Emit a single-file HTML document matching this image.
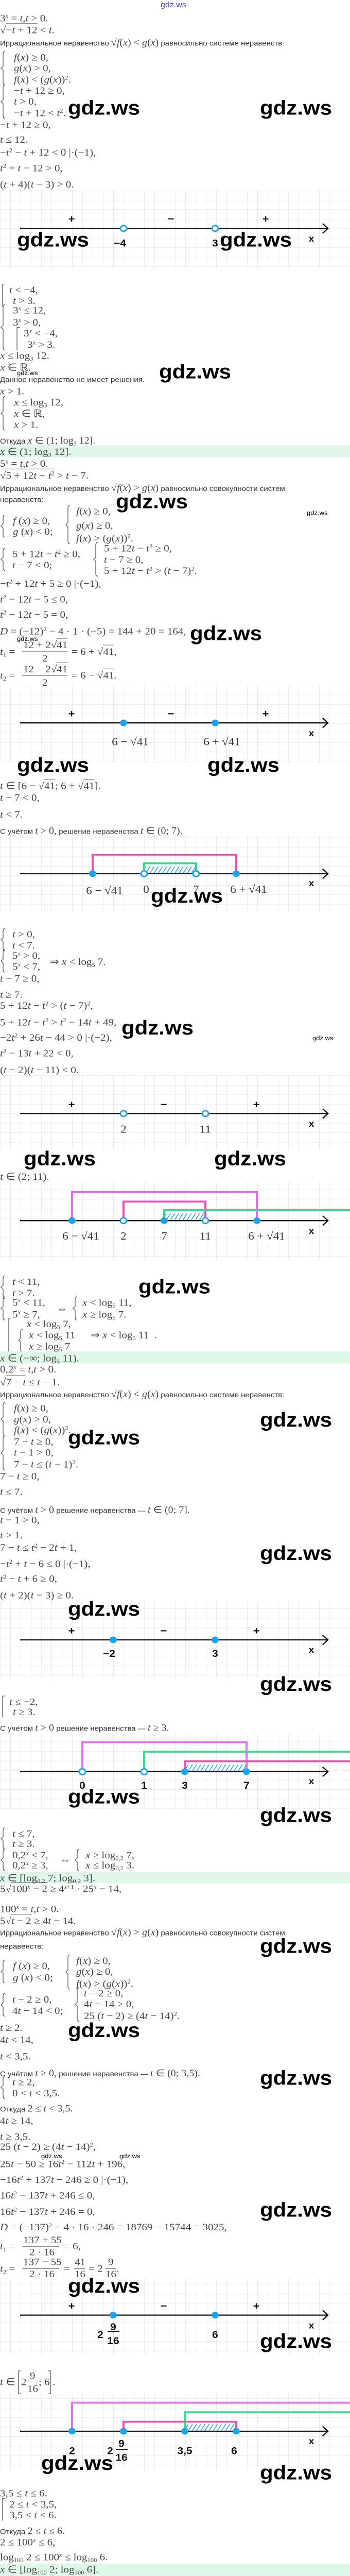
<!DOCTYPE html>
<html style="width:680px;height:5000px;overflow:hidden;margin:0"><head><meta charset="utf-8">
<style>
html,body{margin:0;padding:0}
body{width:680px;height:5000px;position:relative;background:#fff;overflow:hidden}
#c{position:absolute;left:0;top:0;width:680px;height:5413px;transform:scale(1,0.92367);transform-origin:0 0;overflow:hidden}
.m{position:absolute;left:0;font:21px/26px "Liberation Serif",serif;color:#444;white-space:nowrap;z-index:2}
.r{position:absolute;left:0;font:15px/22px "Liberation Sans",sans-serif;color:#333;white-space:nowrap;z-index:2;max-width:670px;overflow:hidden}
.r .q{font:20px "Liberation Serif",serif;color:#444}
sup{font-size:60%;line-height:0;vertical-align:7px}
sub{font-size:60%;line-height:0;vertical-align:-4px}
.o{border-top:1px solid #666;padding-top:1px}
.w{position:absolute;font:bold 42px/42px "Liberation Sans",sans-serif;color:#000;z-index:3;white-space:nowrap}
.ws{position:absolute;font:13px/14px "Liberation Sans",sans-serif;color:#000;z-index:3}
.gb{position:absolute;left:0;width:680px;background:#dff7e8;z-index:1}
.fl{position:absolute;height:1px;background:#555;z-index:2}
svg{position:absolute;left:0;top:0;z-index:0}
</style></head><body><div id="c">
<svg width="680" height="5413" viewBox="0 0 680 5413">
<defs>
<pattern id="g" width="20" height="20" patternUnits="userSpaceOnUse"><path d="M20 0H0V20" fill="none" stroke="#e2e2e2" stroke-width="1.3"/></pattern>
<pattern id="h" width="7" height="7" patternUnits="userSpaceOnUse" patternTransform="rotate(30)"><line x1="0" y1="0" x2="0" y2="7" stroke="#1fa3e8" stroke-width="3"/></pattern>
</defs>
<g fill="url(#g)">
<rect x="0" y="400" width="680" height="162"/>
<rect x="0" y="1441" width="680" height="162"/>
<rect x="0" y="1754" width="680" height="161"/>
<rect x="0" y="2260" width="680" height="157"/>
<rect x="0" y="2483" width="680" height="164"/>
<rect x="0" y="3364" width="680" height="162"/>
<rect x="0" y="3643" width="680" height="160"/>
<rect x="0" y="4787" width="680" height="160"/>
<rect x="0" y="5029" width="680" height="163"/>
</g>
<g fill="none" stroke="#555" stroke-width="1.3">
<path d="M10 108Q6 108 6 114L6 139.5L2 143.5L6 147.5L6 173Q6 179 10 179"/>
<path d="M10 178Q6 178 6 184L6 209.5L2 213.5L6 217.5L6 243Q6 249 10 249"/>
<path d="M10 597L5 597L5 644"/>
<path d="M10 640Q6 640 6 646L6 684L2 688L6 692L6 730Q6 736 10 736"/>
<path d="M38 688L33 688L33 736"/>
<path d="M10 833Q6 833 6 839L6 864.5L2 868.5L6 872.5L6 898Q6 904 10 904"/>
<path d="M10 1082Q6 1082 6 1088L6 1101.5L2 1105.5L6 1109.5L6 1123Q6 1129 10 1129"/>
<path d="M136 1062Q132 1062 132 1068L132 1098.5L128 1102.5L132 1106.5L132 1137Q132 1143 136 1143"/>
<path d="M10 1152Q6 1152 6 1158L6 1171.5L2 1175.5L6 1179.5L6 1193Q6 1199 10 1199"/>
<path d="M190 1140Q186 1140 186 1146L186 1171.5L182 1175.5L186 1179.5L186 1205Q186 1211 190 1211"/>
<path d="M10 1951Q6 1951 6 1957L6 1970.5L2 1974.5L6 1978.5L6 1992Q6 1998 10 1998"/>
<path d="M10 1996Q6 1996 6 2002L6 2015.5L2 2019.5L6 2023.5L6 2037Q6 2043 10 2043"/>
<path d="M10 2681Q6 2681 6 2687L6 2701L2 2705L6 2709L6 2723Q6 2729 10 2729"/>
<path d="M10 2725Q6 2725 6 2731L6 2745.5L2 2749.5L6 2753.5L6 2768Q6 2774 10 2774"/>
<path d="M150 2725Q146 2725 146 2731L146 2745.5L142 2749.5L146 2753.5L146 2768Q146 2774 150 2774"/>
<path d="M22 2770L17 2770L17 2842"/>
<path d="M44 2793Q40 2793 40 2799L40 2813L36 2817L40 2821L40 2835Q40 2841 44 2841"/>
<path d="M10 2947Q6 2947 6 2953L6 2978L2 2982L6 2986L6 3011Q6 3017 10 3017"/>
<path d="M10 3017Q6 3017 6 3023L6 3049L2 3053L6 3057L6 3083Q6 3089 10 3089"/>
<path d="M10 3564L5 3564L5 3609"/>
<path d="M10 3841Q6 3841 6 3847L6 3859.5L2 3863.5L6 3867.5L6 3880Q6 3886 10 3886"/>
<path d="M10 3886Q6 3886 6 3892L6 3904.5L2 3908.5L6 3912.5L6 3925Q6 3931 10 3931"/>
<path d="M154 3886Q150 3886 150 3892L150 3904.5L146 3908.5L150 3912.5L150 3925Q150 3931 154 3931"/>
<path d="M10 4119Q6 4119 6 4125L6 4139L2 4143L6 4147L6 4161Q6 4167 10 4167"/>
<path d="M136 4108Q132 4108 132 4114L132 4140L128 4144L132 4148L132 4174Q132 4180 136 4180"/>
<path d="M10 4189Q6 4189 6 4195L6 4209L2 4213L6 4217L6 4231Q6 4237 10 4237"/>
<path d="M154 4176Q150 4176 150 4182L150 4208L146 4212L150 4216L150 4242Q150 4248 154 4248"/>
<path d="M10 4363Q6 4363 6 4369L6 4382.5L2 4386.5L6 4390.5L6 4404Q6 4410 10 4410"/>
<path d="M10 5250L5 5250L5 5297"/>
<path d="M40 4982L36 4982L36 5030L40 5030M94 4982L98 4982L98 5030L94 5030"/>
</g>
<g stroke="#111" stroke-width="2.5" fill="none">
<line x1="39" y1="480" x2="637" y2="480"/><polyline points="627,470 637,480 627,490"/>
<line x1="39" y1="1519" x2="637" y2="1519"/><polyline points="627,1509 637,1519 627,1529"/>
<line x1="39" y1="1836" x2="637" y2="1836"/><polyline points="627,1826 637,1836 627,1846"/>
<line x1="39" y1="2340" x2="637" y2="2340"/><polyline points="627,2330 637,2340 627,2350"/>
<line x1="39" y1="2565" x2="637" y2="2565"/><polyline points="627,2555 637,2565 627,2575"/>
<line x1="39" y1="3446" x2="637" y2="3446"/><polyline points="627,3436 637,3446 627,3456"/>
<line x1="39" y1="3723" x2="637" y2="3723"/><polyline points="627,3713 637,3723 627,3733"/>
<line x1="39" y1="4865" x2="637" y2="4865"/><polyline points="627,4855 637,4865 627,4875"/>
<line x1="39" y1="5109" x2="637" y2="5109"/><polyline points="627,5099 637,5109 627,5119"/>
</g>
<g fill="none" stroke-width="4">
<polyline stroke="#ee4fb0" points="180,1836 180,1796 459,1796 459,1836"/>
<polyline stroke="#33dd8c" points="280,1836 280,1814 381,1814 381,1836"/>
<polyline stroke="#e070ec" points="140,2565 140,2505 499,2505 499,2565"/>
<polyline stroke="#ee4fb0" points="240,2565 240,2525 399,2525 399,2565"/>
<polyline stroke="#33dd8c" points="319,2565 319,2543 680,2543"/>
<polyline stroke="#e070ec" points="160,3723 160,3661 479,3661 479,3723"/>
<polyline stroke="#33dd8c" points="280,3723 280,3681 680,3681"/>
<polyline stroke="#ee4fb0" points="359,3723 359,3701 680,3701"/>
<polyline stroke="#e070ec" points="140,5109 140,5049 680,5049"/>
<polyline stroke="#33dd8c" points="359,5109 359,5069 680,5069"/>
<polyline stroke="#ee4fb0" points="240,5109 240,5089 459,5089 459,5109"/>
</g>
<g fill="url(#h)">
<rect x="282" y="1821" width="98" height="14"/>
<rect x="321" y="2550" width="77" height="14"/>
<rect x="361" y="3708" width="117" height="14"/>
<rect x="361" y="5094" width="97" height="14"/>
</g>
<g fill="#1fa3e8">
<circle cx="240" cy="1519" r="7"/><circle cx="418" cy="1519" r="7"/>
<circle cx="180" cy="1836" r="7"/><circle cx="459" cy="1836" r="7"/>
<circle cx="140" cy="2565" r="7"/><circle cx="319" cy="2565" r="7"/><circle cx="499" cy="2565" r="7"/>
<circle cx="220" cy="3446" r="7"/><circle cx="418" cy="3446" r="7"/>
<circle cx="359" cy="3723" r="7"/><circle cx="479" cy="3723" r="7"/>
<circle cx="220" cy="4865" r="7"/><circle cx="418" cy="4865" r="7"/>
<circle cx="140" cy="5109" r="7"/><circle cx="240" cy="5109" r="7"/><circle cx="359" cy="5109" r="7"/><circle cx="459" cy="5109" r="7"/>
</g>
<g fill="#fff" stroke="#1fa3e8" stroke-width="3">
<circle cx="240" cy="480" r="6"/><circle cx="418" cy="480" r="6"/>
<circle cx="280" cy="1836" r="6"/><circle cx="381" cy="1836" r="6"/>
<circle cx="240" cy="2340" r="6"/><circle cx="399" cy="2340" r="6"/>
<circle cx="240" cy="2565" r="6"/><circle cx="399" cy="2565" r="6"/>
<circle cx="160" cy="3723" r="6"/><circle cx="280" cy="3723" r="6"/>
</g>
<g font-family="Liberation Sans, sans-serif" font-weight="bold" font-size="22" fill="#111" text-anchor="middle">
<text x="139" y="467">+</text><text x="332" y="467">−</text><text x="516" y="467">+</text>
<text x="139" y="1507">+</text><text x="332" y="1507">−</text><text x="516" y="1507">+</text>
<text x="139" y="2328">+</text><text x="318" y="2328">−</text><text x="498" y="2328">+</text>
<text x="139" y="3434">+</text><text x="318" y="3434">−</text><text x="498" y="3434">+</text>
<text x="139" y="4853">+</text><text x="318" y="4853">−</text><text x="498" y="4853">+</text>
</g>
<g font-family="Liberation Sans, sans-serif" font-weight="bold" font-size="19" fill="#111" text-anchor="middle">
<text x="605" y="508">x</text><text x="605" y="1547">x</text><text x="605" y="1862">x</text><text x="605" y="2368">x</text><text x="605" y="2593">x</text><text x="605" y="3473">x</text><text x="605" y="3749">x</text><text x="605" y="4893">x</text><text x="605" y="5136">x</text>
</g>
<g font-family="Liberation Sans, sans-serif" font-weight="bold" font-size="21" fill="#111" text-anchor="middle">
<text x="233" y="518">−4</text><text x="418" y="518">3</text>
<text x="212" y="3482">−2</text><text x="418" y="3482">3</text>
<text x="160" y="3759">0</text><text x="280" y="3759">1</text><text x="359" y="3759">3</text><text x="479" y="3759">7</text>
<text x="195" y="4913">2</text><text x="220" y="4897">9</text><text x="220" y="4926">16</text>
<text x="418" y="4913">6</text>
<text x="140" y="5157">2</text><text x="214" y="5157">2</text><text x="236" y="5142">9</text><text x="236" y="5171">16</text>
<text x="359" y="5157">3,5</text><text x="455" y="5157">6</text>
</g>
<g stroke="#111" stroke-width="2"><line x1="209" y1="4899" x2="232" y2="4899"/><line x1="225" y1="5147" x2="248" y2="5147"/></g>
<g font-family="Liberation Serif, serif" font-size="23" fill="#333" text-anchor="middle">
<text x="253" y="1566">6 − √41</text><text x="431" y="1566">6 + √41</text>
<text x="203" y="1879">6 − √41</text><text x="284" y="1876">0</text><text x="381" y="1876">7</text><text x="483" y="1876">6 + √41</text>
<text x="240" y="2380">2</text><text x="399" y="2380">11</text>
<text x="157" y="2605">6 − √41</text><text x="240" y="2605">2</text><text x="319" y="2605">7</text><text x="399" y="2605">11</text><text x="518" y="2605">6 + √41</text>
</g>
</svg>

<div class="gb" style="top:936px;height:25px"></div>
<div class="gb" style="top:2840px;height:25px"></div>
<div class="gb" style="top:3933px;height:24px"></div>
<div class="gb" style="top:5387px;height:26px"></div>

<div class="ws" style="left:312px;top:4px;font-size:16px;color:#4b3cd8">gdz.ws</div>

<div class="m" style="top:25px">3<sup><i>x</i></sup> = <i>t</i>,<i>t</i> &gt; 0.</div>
<div class="m" style="top:50px">√<span class="o">−<i>t</i> + 12</span> &lt; <i>t</i>.</div>
<div class="r" style="top:79px">Иррациональное неравенство <span class="q">√<span class="o"><i>f</i>(<i>x</i>)</span> &lt; <i>g</i>(<i>x</i>)</span> равносильно системе неравенств:</div>
<div class="m" style="top:107px;left:27px"><i>f</i>(<i>x</i>) ≥ 0,</div>
<div class="m" style="top:130px;left:27px"><i>g</i>(<i>x</i>) &gt; 0,</div>
<div class="m" style="top:154px;left:27px"><i>f</i>(<i>x</i>) &lt; (<i>g</i>(<i>x</i>))<sup>2</sup>.</div>
<div class="m" style="top:177px;left:27px">−<i>t</i> + 12 ≥ 0,</div>
<div class="m" style="top:200px;left:27px"><i>t</i> &gt; 0,</div>
<div class="m" style="top:224px;left:27px">−<i>t</i> + 12 &lt; <i>t</i><sup>2</sup>.</div>
<div class="w" style="left:132px;top:206px">gdz.ws</div>
<div class="w" style="left:505px;top:206px">gdz.ws</div>
<div class="m" style="top:249px">−<i>t</i> + 12 ≥ 0,</div>
<div class="m" style="top:280px"><i>t</i> ≤ 12.</div>
<div class="m" style="top:307px">−<i>t</i><sup>2</sup> − <i>t</i> + 12 &lt; 0 |·(−1),</div>
<div class="m" style="top:340px"><i>t</i><sup>2</sup> + <i>t</i> − 12 &gt; 0,</div>
<div class="m" style="top:374px">(<i>t</i> + 4)(<i>t</i> − 3) &gt; 0.</div>
<div class="w" style="left:33px;top:483px">gdz.ws</div>
<div class="w" style="left:427px;top:483px">gdz.ws</div>

<div class="m" style="top:596px;left:18px"><i>t</i> &lt; −4,</div>
<div class="m" style="top:619px;left:25px"><i>t</i> &gt; 3.</div>
<div class="m" style="top:639px;left:25px">3<sup><i>x</i></sup> ≤ 12,</div>
<div class="m" style="top:664px;left:25px">3<sup><i>x</i></sup> &gt; 0,</div>
<div class="m" style="top:687px;left:46px">3<sup><i>x</i></sup> &lt; −4,</div>
<div class="m" style="top:711px;left:53px">3<sup><i>x</i></sup> &gt; 3.</div>
<div class="m" style="top:734px"><i>x</i> ≤ log<sub>3</sub> 12.</div>
<div class="m" style="top:759px"><i>x</i> ∈ ℝ.</div>
<div class="ws" style="left:33px;top:777px">gdz.ws</div>
<div class="r" style="top:788px">Данное неравенство не имеет решения.</div>
<div class="w" style="left:309px;top:760px">gdz.ws</div>
<div class="m" style="top:809px"><i>x</i> &gt; 1.</div>
<div class="m" style="top:832px;left:27px"><i>x</i> ≤ log<sub>3</sub> 12,</div>
<div class="m" style="top:856px;left:27px"><i>x</i> ∈ ℝ,</div>
<div class="m" style="top:879px;left:27px"><i>x</i> &gt; 1.</div>
<div class="r" style="top:913px">Откуда <span class="q"><i>x</i> ∈ (1; log<sub>3</sub> 12].</span></div>
<div class="m" style="top:936px"><i>x</i> ∈ (1; log<sub>3</sub> 12].</div>
<div class="m" style="top:961px">5<sup><i>x</i></sup> = <i>t</i>,<i>t</i> &gt; 0.</div>
<div class="m" style="top:986px">√<span class="o">5 + 12<i>t</i> − <i>t</i><sup>2</sup></span> &gt; <i>t</i> − 7.</div>
<div class="r" style="top:1015px">Иррациональное неравенство <span class="q">√<span class="o"><i>f</i>(<i>x</i>)</span> &gt; <i>g</i>(<i>x</i>)</span> равносильно совокупности систем</div>
<div class="r" style="top:1040px">неравенств:</div>
<div class="w" style="left:225px;top:1033px">gdz.ws</div>
<div class="ws" style="left:596px;top:1071px">gdz.ws</div>
<div class="m" style="top:1081px;left:25px"><i>f</i> (<i>x</i>) ≥ 0,</div>
<div class="m" style="top:1104px;left:25px"><i>g</i> (<i>x</i>) &lt; 0;</div>
<div class="m" style="top:1061px;left:148px"><i>f</i>(<i>x</i>) ≥ 0,</div>
<div class="m" style="top:1091px;left:148px"><i>g</i>(<i>x</i>) ≥ 0,</div>
<div class="m" style="top:1118px;left:148px"><i>f</i>(<i>x</i>) &gt; (<i>g</i>(<i>x</i>))<sup>2</sup>.</div>
<div class="m" style="top:1151px;left:24px">5 + 12<i>t</i> − <i>t</i><sup>2</sup> ≥ 0,</div>
<div class="m" style="top:1174px;left:24px"><i>t</i> − 7 &lt; 0;</div>
<div class="m" style="top:1139px;left:202px">5 + 12<i>t</i> − <i>t</i><sup>2</sup> ≥ 0,</div>
<div class="m" style="top:1163px;left:202px"><i>t</i> − 7 ≥ 0,</div>
<div class="m" style="top:1186px;left:202px">5 + 12<i>t</i> − <i>t</i><sup>2</sup> &gt; (<i>t</i> − 7)<sup>2</sup>.</div>
<div class="m" style="top:1213px">−<i>t</i><sup>2</sup> + 12<i>t</i> + 5 ≥ 0 |·(−1),</div>
<div class="m" style="top:1246px"><i>t</i><sup>2</sup> − 12<i>t</i> − 5 ≤ 0,</div>
<div class="m" style="top:1278px"><i>t</i><sup>2</sup> − 12<i>t</i> − 5 = 0,</div>
<div class="m" style="top:1313px"><i>D</i> = (−12)<sup>2</sup> − 4 · 1 · (−5) = 144 + 20 = 164,</div>
<div class="w" style="left:369px;top:1310px">gdz.ws</div>
<div class="ws" style="left:33px;top:1336px">gdz.ws</div>
<div class="m" style="top:1356px"><i>t</i><sub>1</sub> =</div>
<div class="m" style="top:1342px;left:45px">12 + 2√<span class="o">41</span></div>
<div class="fl" style="top:1369px;left:43px;width:88px"></div>
<div class="m" style="top:1370px;left:82px">2</div>
<div class="m" style="top:1356px;left:139px">= 6 + √<span class="o">41</span>,</div>
<div class="m" style="top:1406px"><i>t</i><sub>2</sub> =</div>
<div class="m" style="top:1393px;left:45px">12 − 2√<span class="o">41</span></div>
<div class="fl" style="top:1419px;left:43px;width:88px"></div>
<div class="m" style="top:1421px;left:82px">2</div>
<div class="m" style="top:1406px;left:139px">= 6 − √<span class="o">41</span>.</div>
<div class="w" style="left:33px;top:1587px">gdz.ws</div>
<div class="w" style="left:403px;top:1587px">gdz.ws</div>
<div class="m" style="top:1638px"><i>t</i> ∈ [6 − √<span class="o">41</span>; 6 + √<span class="o">41</span>].</div>
<div class="m" style="top:1663px"><i>t</i> − 7 &lt; 0,</div>
<div class="m" style="top:1698px"><i>t</i> &lt; 7.</div>
<div class="r" style="top:1733px">С учётом <span class="q"><i>t</i> &gt; 0,</span> решение неравенства <span class="q"><i>t</i> ∈ (0; 7).</span></div>
<div class="w" style="left:293px;top:1862px">gdz.ws</div>
<div class="m" style="top:1950px;left:24px"><i>t</i> &gt; 0,</div>
<div class="m" style="top:1973px;left:24px"><i>t</i> &lt; 7.</div>
<div class="m" style="top:1995px;left:24px">5<sup><i>x</i></sup> &gt; 0,</div>
<div class="m" style="top:2018px;left:24px">5<sup><i>x</i></sup> &lt; 7,</div>
<div class="m" style="top:2008px;left:97px">⇒ <i>x</i> &lt; log<sub>5</sub> 7.</div>
<div class="m" style="top:2043px"><i>t</i> − 7 ≥ 0,</div>
<div class="m" style="top:2077px"><i>t</i> ≥ 7.</div>
<div class="m" style="top:2100px">5 + 12<i>t</i> − <i>t</i><sup>2</sup> &gt; (<i>t</i> − 7)<sup>2</sup>,</div>
<div class="m" style="top:2135px">5 + 12<i>t</i> − <i>t</i><sup>2</sup> &gt; <i>t</i><sup>2</sup> − 14<i>t</i> + 49,</div>
<div class="w" style="left:236px;top:2139px">gdz.ws</div>
<div class="m" style="top:2167px">−2<i>t</i><sup>2</sup> + 26<i>t</i> − 44 &gt; 0 |·(−2),</div>
<div class="ws" style="left:607px;top:2175px">gdz.ws</div>
<div class="m" style="top:2200px"><i>t</i><sup>2</sup> − 13<i>t</i> + 22 &lt; 0,</div>
<div class="m" style="top:2235px">(<i>t</i> − 2)(<i>t</i> − 11) &lt; 0.</div>
<div class="w" style="left:46px;top:2414px">gdz.ws</div>
<div class="w" style="left:416px;top:2414px">gdz.ws</div>
<div class="m" style="top:2459px"><i>t</i> ∈ (2; 11).</div>
<div class="m" style="top:2680px;left:24px"><i>t</i> &lt; 11,</div>
<div class="m" style="top:2704px;left:24px"><i>t</i> ≥ 7.</div>
<div class="w" style="left:269px;top:2683px">gdz.ws</div>
<div class="m" style="top:2724px;left:24px">5<sup><i>x</i></sup> &lt; 11,</div>
<div class="m" style="top:2749px;left:24px">5<sup><i>x</i></sup> ≥ 7,</div>
<div class="m" style="top:2737px;left:110px">⇔</div>
<div class="m" style="top:2724px;left:160px"><i>x</i> &lt; log<sub>5</sub> 11,</div>
<div class="m" style="top:2749px;left:160px"><i>x</i> ≥ log<sub>5</sub> 7.</div>
<div class="m" style="top:2769px;left:52px"><i>x</i> &lt; log<sub>5</sub> 7,</div>
<div class="m" style="top:2792px;left:56px"><i>x</i> &lt; log<sub>5</sub> 11</div>
<div class="m" style="top:2816px;left:56px"><i>x</i> ≥ log<sub>5</sub> 7</div>
<div class="m" style="top:2792px;left:176px">⇒ <i>x</i> &lt; log<sub>5</sub> 11 &nbsp;.</div>
<div class="m" style="top:2841px"><i>x</i> ∈ (−∞; log<sub>5</sub> 11).</div>
<div class="m" style="top:2864px">0,2<sup><i>x</i></sup> = <i>t</i>,<i>t</i> &gt; 0.</div>
<div class="m" style="top:2891px">√<span class="o">7 − <i>t</i></span> ≤ <i>t</i> − 1.</div>
<div class="r" style="top:2919px">Иррациональное неравенство <span class="q">√<span class="o"><i>f</i>(<i>x</i>)</span> &lt; <i>g</i>(<i>x</i>)</span> равносильно системе неравенств:</div>
<div class="m" style="top:2946px;left:27px"><i>f</i>(<i>x</i>) ≥ 0,</div>
<div class="m" style="top:2969px;left:27px"><i>g</i>(<i>x</i>) &gt; 0,</div>
<div class="m" style="top:2992px;left:27px"><i>f</i>(<i>x</i>) &lt; (<i>g</i>(<i>x</i>))<sup>2</sup>.</div>
<div class="m" style="top:3016px;left:27px">7 − <i>t</i> ≥ 0,</div>
<div class="m" style="top:3039px;left:27px"><i>t</i> − 1 &gt; 0,</div>
<div class="m" style="top:3064px;left:27px">7 − <i>t</i> ≤ (<i>t</i> − 1)<sup>2</sup>.</div>
<div class="w" style="left:132px;top:3000px">gdz.ws</div>
<div class="w" style="left:505px;top:2963px">gdz.ws</div>
<div class="m" style="top:3089px">7 − <i>t</i> ≥ 0,</div>
<div class="m" style="top:3122px"><i>t</i> ≤ 7.</div>
<div class="r" style="top:3160px">С учётом <span class="q"><i>t</i> &gt; 0</span> решение неравенства — <span class="q"><i>t</i> ∈ (0; 7].</span></div>
<div class="m" style="top:3181px"><i>t</i> − 1 &gt; 0,</div>
<div class="m" style="top:3213px"><i>t</i> &gt; 1.</div>
<div class="m" style="top:3239px">7 − <i>t</i> ≤ <i>t</i><sup>2</sup> − 2<i>t</i> + 1,</div>
<div class="w" style="left:505px;top:3243px">gdz.ws</div>
<div class="m" style="top:3273px">−<i>t</i><sup>2</sup> + <i>t</i> − 6 ≤ 0 |·(−1),</div>
<div class="m" style="top:3304px"><i>t</i><sup>2</sup> − <i>t</i> + 6 ≥ 0,</div>
<div class="m" style="top:3339px">(<i>t</i> + 2)(<i>t</i> − 3) ≥ 0.</div>
<div class="w" style="left:132px;top:3360px">gdz.ws</div>
<div class="w" style="left:505px;top:3518px">gdz.ws</div>
<div class="m" style="top:3563px;left:18px"><i>t</i> ≤ −2,</div>
<div class="m" style="top:3584px;left:25px"><i>t</i> ≥ 3.</div>
<div class="r" style="top:3620px">С учётом <span class="q"><i>t</i> &gt; 0</span> решение неравенства — <span class="q"><i>t</i> ≥ 3.</span></div>
<div class="w" style="left:132px;top:3755px">gdz.ws</div>
<div class="w" style="left:505px;top:3794px">gdz.ws</div>
<div class="m" style="top:3840px;left:24px"><i>t</i> ≤ 7,</div>
<div class="m" style="top:3861px;left:24px"><i>t</i> ≥ 3.</div>
<div class="m" style="top:3885px;left:24px">0,2<sup><i>x</i></sup> ≤ 7,</div>
<div class="m" style="top:3906px;left:24px">0,2<sup><i>x</i></sup> ≥ 3,</div>
<div class="m" style="top:3895px;left:116px">⇔</div>
<div class="m" style="top:3885px;left:166px"><i>x</i> ≥ log<sub>0,2</sub> 7,</div>
<div class="m" style="top:3906px;left:166px"><i>x</i> ≤ log<sub>0,2</sub> 3.</div>
<div class="m" style="top:3933px"><i>x</i> ∈ [log<sub>0,2</sub> 7; log<sub>0,2</sub> 3].</div>
<div class="m" style="top:3956px">5√<span class="o">100<sup><i>x</i></sup> − 2</span> ≥ 4<sup><i>x</i>+1</sup> · 25<sup><i>x</i></sup> − 14,</div>
<div class="m" style="top:3998px">100<sup><i>x</i></sup> = <i>t</i>,<i>t</i> &gt; 0.</div>
<div class="m" style="top:4023px">5√<span class="o"><i>t</i> − 2</span> ≥ 4<i>t</i> − 14.</div>
<div class="r" style="top:4050px">Иррациональное неравенство <span class="q">√<span class="o"><i>f</i>(<i>x</i>)</span> &gt; <i>g</i>(<i>x</i>)</span> равносильно совокупности систем</div>
<div class="r" style="top:4080px">неравенств:</div>
<div class="w" style="left:505px;top:4069px">gdz.ws</div>
<div class="m" style="top:4118px;left:25px"><i>f</i> (<i>x</i>) ≥ 0,</div>
<div class="m" style="top:4142px;left:25px"><i>g</i> (<i>x</i>) &lt; 0;</div>
<div class="m" style="top:4107px;left:148px"><i>f</i>(<i>x</i>) ≥ 0,</div>
<div class="m" style="top:4130px;left:148px"><i>g</i>(<i>x</i>) ≥ 0,</div>
<div class="m" style="top:4155px;left:148px"><i>f</i>(<i>x</i>) &gt; (<i>g</i>(<i>x</i>))<sup>2</sup>.</div>
<div class="m" style="top:4188px;left:24px"><i>t</i> − 2 ≥ 0,</div>
<div class="m" style="top:4212px;left:24px">4<i>t</i> − 14 &lt; 0;</div>
<div class="m" style="top:4175px;left:163px"><i>t</i> − 2 ≥ 0,</div>
<div class="m" style="top:4198px;left:163px">4<i>t</i> − 14 ≥ 0,</div>
<div class="m" style="top:4223px;left:163px">25 (<i>t</i> − 2) ≥ (4<i>t</i> − 14)<sup>2</sup>.</div>
<div class="m" style="top:4248px"><i>t</i> ≥ 2.</div>
<div class="w" style="left:132px;top:4246px">gdz.ws</div>
<div class="m" style="top:4273px">4<i>t</i> &lt; 14,</div>
<div class="m" style="top:4308px"><i>t</i> &lt; 3,5.</div>
<div class="r" style="top:4344px">С учётом <span class="q"><i>t</i> &gt; 0,</span> решение неравенства — <span class="q"><i>t</i> ∈ (0; 3,5).</span></div>
<div class="w" style="left:505px;top:4346px">gdz.ws</div>
<div class="m" style="top:4362px;left:24px"><i>t</i> ≥ 2,</div>
<div class="m" style="top:4385px;left:24px">0 &lt; <i>t</i> &lt; 3,5.</div>
<div class="r" style="top:4420px">Откуда <span class="q">2 ≤ <i>t</i> &lt; 3,5.</span></div>
<div class="m" style="top:4443px">4<i>t</i> ≥ 14,</div>
<div class="m" style="top:4477px"><i>t</i> ≥ 3,5.</div>
<div class="m" style="top:4498px">25 (<i>t</i> − 2) ≥ (4<i>t</i> − 14)<sup>2</sup>,</div>
<div class="ws" style="left:80px;top:4524px">gdz.ws</div>
<div class="ws" style="left:232px;top:4524px">gdz.ws</div>
<div class="m" style="top:4534px">25<i>t</i> − 50 ≥ 16<i>t</i><sup>2</sup> − 112<i>t</i> + 196,</div>
<div class="m" style="top:4567px">−16<i>t</i><sup>2</sup> + 137<i>t</i> − 246 ≥ 0 |·(−1),</div>
<div class="m" style="top:4600px">16<i>t</i><sup>2</sup> − 137<i>t</i> + 246 ≤ 0,</div>
<div class="m" style="top:4634px">16<i>t</i><sup>2</sup> − 137<i>t</i> + 246 = 0,</div>
<div class="w" style="left:505px;top:4623px">gdz.ws</div>
<div class="m" style="top:4667px"><i>D</i> = (−137)<sup>2</sup> − 4 · 16 · 246 = 18769 − 15744 = 3025,</div>
<div class="m" style="top:4707px"><i>t</i><sub>1</sub> =</div>
<div class="m" style="top:4694px;left:45px">137 + 55</div>
<div class="fl" style="top:4720px;left:43px;width:72px"></div>
<div class="m" style="top:4719px;left:57px">2 · 16</div>
<div class="m" style="top:4707px;left:124px">= 6,</div>
<div class="m" style="top:4754px"><i>t</i><sub>2</sub> =</div>
<div class="m" style="top:4740px;left:45px">137 − 55</div>
<div class="fl" style="top:4767px;left:43px;width:72px"></div>
<div class="m" style="top:4765px;left:57px">2 · 16</div>
<div class="m" style="top:4754px;left:124px">=</div>
<div class="m" style="top:4740px;left:145px">41</div>
<div class="fl" style="top:4767px;left:144px;width:22px"></div>
<div class="m" style="top:4765px;left:145px">16</div>
<div class="m" style="top:4754px;left:172px">= 2</div>
<div class="m" style="top:4740px;left:210px">9</div>
<div class="fl" style="top:4767px;left:205px;width:20px"></div>
<div class="m" style="top:4765px;left:205px">16</div>
<div class="m" style="top:4754px;left:226px">.</div>
<div class="w" style="left:132px;top:4783px">gdz.ws</div>
<div class="w" style="left:505px;top:4899px">gdz.ws</div>
<div class="m" style="top:4992px"><i>t</i> ∈</div>
<div class="m" style="top:4992px;left:41px">2</div>
<div class="m" style="top:4979px;left:58px">9</div>
<div class="fl" style="top:5005px;left:53px;width:20px"></div>
<div class="m" style="top:5006px;left:53px">16</div>
<div class="m" style="top:4992px;left:75px">; 6</div>
<div class="m" style="top:4992px;left:102px">.</div>
<div class="w" style="left:80px;top:5155px">gdz.ws</div>
<div class="w" style="left:505px;top:5175px">gdz.ws</div>
<div class="m" style="top:5226px">3,5 ≤ <i>t</i> ≤ 6.</div>
<div class="m" style="top:5249px;left:18px">2 ≤ <i>t</i> &lt; 3,5,</div>
<div class="m" style="top:5272px;left:18px">3,5 ≤ <i>t</i> ≤ 6.</div>
<div class="r" style="top:5308px">Откуда <span class="q">2 ≤ <i>t</i> ≤ 6.</span></div>
<div class="m" style="top:5329px">2 ≤ 100<sup><i>x</i></sup> ≤ 6,</div>
<div class="m" style="top:5360px">log<sub>100</sub> 2 ≤ 100<sup><i>x</i></sup> ≤ log<sub>100</sub> 6.</div>
<div class="m" style="top:5386px"><i>x</i> ∈ [log<sub>100</sub> 2; log<sub>100</sub> 6].</div>
</div></body></html>
